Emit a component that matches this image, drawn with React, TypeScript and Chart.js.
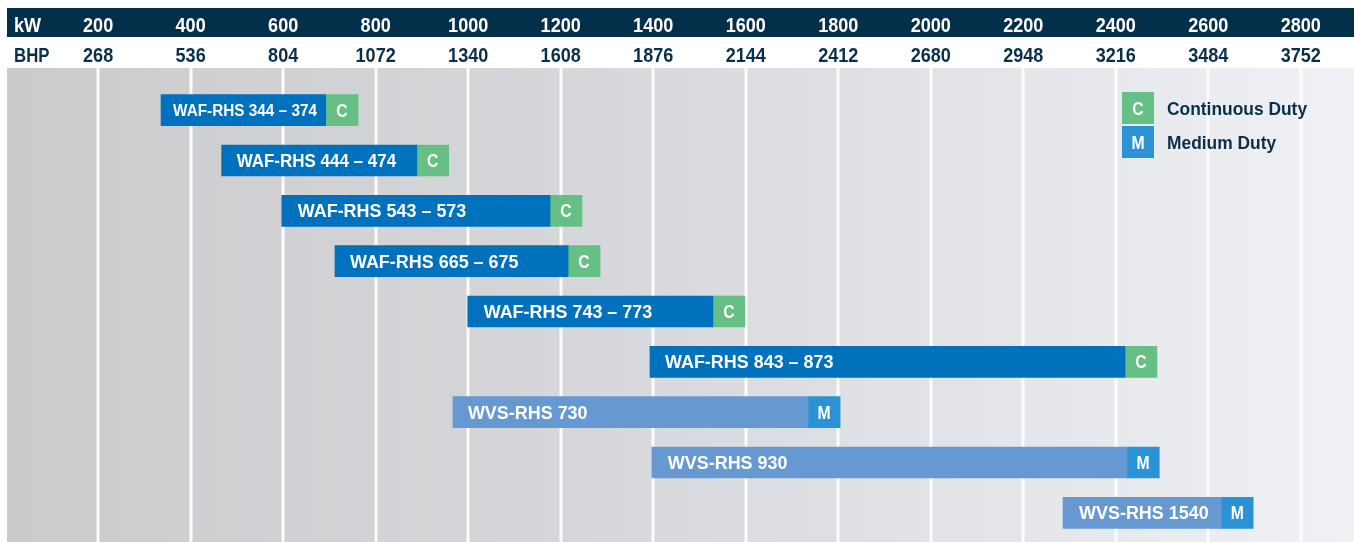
import React, { useEffect, useRef } from 'react';
import { Chart, registerables } from 'chart.js';

Chart.register(...registerables);

// ---- data ----
const models = [
  'WAF-RHS 344 – 374',
  'WAF-RHS 444 – 474',
  'WAF-RHS 543 – 573',
  'WAF-RHS 665 – 675',
  'WAF-RHS 743 – 773',
  'WAF-RHS 843 – 873',
  'WVS-RHS 730',
  'WVS-RHS 930',
  'WVS-RHS 1540',
];
const dutyTags = ['C', 'C', 'C', 'C', 'C', 'C', 'M', 'M', 'M'];
const rangeStartKw = [336, 467, 597, 712, 999, 1393, 967, 1397, 2286];
const rangeEndKw = [692, 889, 1177, 1216, 1529, 2420, 1735, 2424, 2628];
const tagEndKw = [762, 958, 1246, 1285, 1598, 2489, 1804, 2494, 2697];
const kwTicks = [200, 400, 600, 800, 1000, 1200, 1400, 1600, 1800, 2000, 2200, 2400, 2600, 2800];
const bhpTicks = [268, 536, 804, 1072, 1340, 1608, 1876, 2144, 2412, 2680, 2948, 3216, 3484, 3752];
const legendItems = [
  { tag: 'C', label: 'Continuous Duty' },
  { tag: 'M', label: 'Medium Duty' },
];

// ---- styles ----
const NAVY = '#042f4b';
const TEXT_NAVY = '#0a2f4a';
const WAF_BLUE = '#0071bc';
const WVS_BLUE = '#6699d2';
const C_GREEN = '#66c085';
const M_BLUE = '#2a92d5';
const FONT = '"Liberation Sans", Arial, sans-serif';
const LABEL_FONT_PX = [15.8, 17.5, 18.5, 18.5, 18.5, 18.5, 18.5, 18.5, 18.5];
const LABEL_PAD = [12, 15, 16, 15, 16, 15, 15, 16, 16];

const W = 1347;
const H = 534;
const HEADER1 = 29;
const HEADER2 = 60;

const tagColor = (t: string) => (t === 'C' ? C_GREEN : M_BLUE);
const bodyColor = (m: string) => (m.startsWith('WVS') ? WVS_BLUE : WAF_BLUE);

function drawText(
  ctx: CanvasRenderingContext2D,
  text: string,
  x: number,
  baseline: number,
  align: CanvasTextAlign,
  size: number,
  sx: number,
  color: string
) {
  ctx.save();
  ctx.translate(x, baseline);
  ctx.scale(sx, 1);
  ctx.font = `bold ${size}px ${FONT}`;
  ctx.textAlign = align;
  ctx.textBaseline = 'alphabetic';
  ctx.fillStyle = color;
  ctx.fillText(text, 0, 0);
  ctx.restore();
}

const backdropPlugin = {
  id: 'backdrop',
  beforeDatasetsDraw(chart: any) {
    const { ctx, width, height } = chart;
    const x = chart.scales.x;
    ctx.save();
    ctx.fillStyle = NAVY;
    ctx.fillRect(0, 0, width, HEADER1);
    ctx.fillStyle = '#ffffff';
    ctx.fillRect(0, HEADER1, width, HEADER2 - HEADER1);
    const g = ctx.createLinearGradient(0, 0, width, 0);
    g.addColorStop(0, '#cbcbce');
    g.addColorStop(0.45, '#d7d8db');
    g.addColorStop(1, '#eff1f4');
    ctx.fillStyle = g;
    ctx.fillRect(0, HEADER2, width, height - HEADER2);
    ctx.fillStyle = '#fbfbfc';
    kwTicks.forEach((v) => {
      const px = Math.round(x.getPixelForValue(v));
      ctx.fillRect(px - 1.5, HEADER2, 3, height - HEADER2);
    });
    ctx.restore();
    drawText(ctx, 'kW', 7, 23.7, 'left', 21, 0.86, '#ffffff');
    drawText(ctx, 'BHP', 7, 54.3, 'left', 21, 0.8, TEXT_NAVY);
    kwTicks.forEach((v, i) => {
      const px = x.getPixelForValue(v);
      drawText(ctx, String(v), px, 23.7, 'center', 21, 0.86, '#ffffff');
      drawText(ctx, String(bhpTicks[i]), px, 54.3, 'center', 21, 0.86, TEXT_NAVY);
    });
  },
  afterDatasetsDraw(chart: any) {
    const { ctx } = chart;
    const main = chart.getDatasetMeta(0).data;
    const tags = chart.getDatasetMeta(1).data;
    main.forEach((bar: any, i: number) => {
      const left = Math.min(bar.x, bar.base);
      const fs = LABEL_FONT_PX[i];
      drawText(ctx, models[i], left + LABEL_PAD[i], bar.y + fs * 0.358, 'left', fs, 0.97, '#ffffff');
      const t = tags[i];
      drawText(ctx, dutyTags[i], (t.x + t.base) / 2, t.y + 6.4, 'center', 17.5, 0.9, '#ffffff');
    });
    const lx = 1115;
    const ly = [84, 118];
    legendItems.forEach((it, i) => {
      ctx.save();
      ctx.fillStyle = tagColor(it.tag);
      ctx.fillRect(lx, ly[i], 32, 32);
      ctx.restore();
      drawText(ctx, it.tag, lx + 16, ly[i] + 22.6, 'center', 17.5, 0.9, '#ffffff');
      drawText(ctx, it.label, lx + 45, ly[i] + 23, 'left', 18.5, 0.94, TEXT_NAVY);
    });
  },
};

export default function App() {
  const ref = useRef<HTMLCanvasElement | null>(null);
  useEffect(() => {
    if (!ref.current) return;
    const chart = new Chart(ref.current, {
      type: 'bar',
      data: {
        labels: models,
        datasets: [
          {
            label: 'range',
            data: rangeStartKw.map((s, i) => [s, rangeEndKw[i]]) as any,
            backgroundColor: models.map(bodyColor),
            borderWidth: 0,
            borderSkipped: false,
            grouped: false,
            barThickness: 31,
          } as any,
          {
            label: 'duty',
            data: rangeEndKw.map((s, i) => [s, tagEndKw[i]]) as any,
            backgroundColor: dutyTags.map(tagColor),
            borderWidth: 0,
            borderSkipped: false,
            grouped: false,
            barThickness: 31,
          } as any,
        ],
      },
      options: {
        indexAxis: 'y',
        responsive: false,
        animation: false,
        devicePixelRatio: 1,
        layout: { padding: { top: 77, bottom: 4, left: 0, right: 0 } },
        plugins: { legend: { display: false }, tooltip: { enabled: false } },
        scales: {
          x: { type: 'linear', min: 3, max: 2915, display: false },
          y: { type: 'category', display: false, offset: true },
        },
      },
      plugins: [backdropPlugin],
    });
    return () => chart.destroy();
  }, []);
  return (
    <div style={{ position: 'fixed', left: 7, top: 8, width: W, height: H, overflow: 'hidden' }}>
      <canvas ref={ref} width={W} height={H} style={{ display: 'block', width: W, height: H }} />
    </div>
  );
}
